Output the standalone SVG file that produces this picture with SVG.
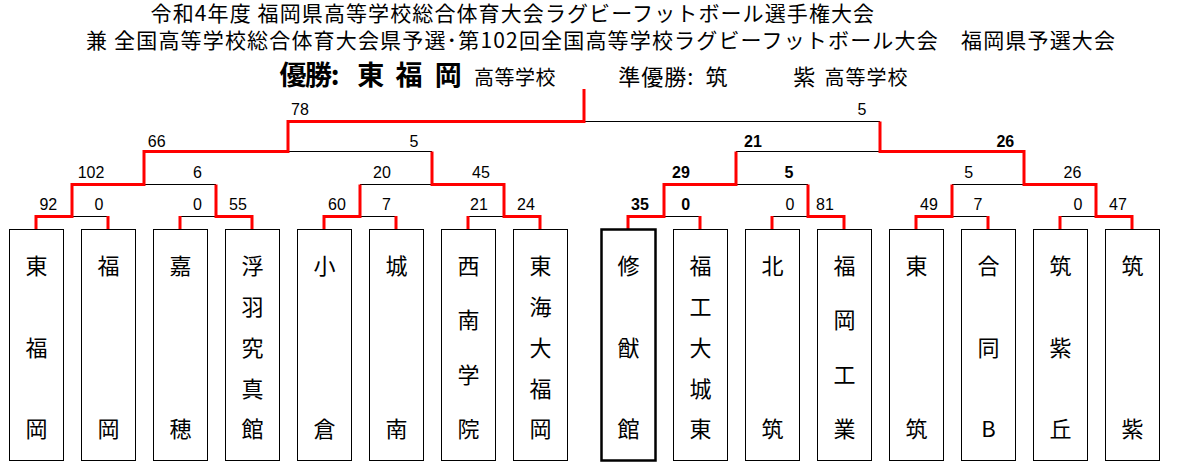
<svg xmlns="http://www.w3.org/2000/svg" width="1177" height="465" viewBox="0 0 1177 465">
<style>
.bg{fill:#fff}
.box{fill:#fff;stroke:#000;stroke-width:1}
.boxw{fill:#fff;stroke:#000;stroke-width:2.5}
.red{fill:none;stroke:#f00;stroke-width:3;stroke-linejoin:miter;stroke-linecap:butt}
.blk{fill:none;stroke:#000;stroke-width:1}
.sc{font-family:"Liberation Sans",Arial,sans-serif;font-size:16px;text-anchor:middle;fill:#000}
.b{font-weight:bold}
.nm{font-family:"Noto Sans CJK JP","Noto Sans CJK SC",sans-serif;font-size:22px;text-anchor:middle;fill:#000}
.ti{font-family:"Noto Sans CJK JP","Noto Sans CJK SC",sans-serif;fill:#000}
</style>
<rect class="bg" x="0" y="0" width="1177" height="465"/>

<g id="title">
<text class="ti" x="150.6" y="21" font-size="21" textLength="723.5">令和4年度 福岡県高等学校総合体育大会ラグビーフットボール選手権大会</text>
<text class="ti" x="86" y="47.5" font-size="21" textLength="1029">兼 全国高等学校総合体育大会県予選･第102回全国高等学校ラグビーフットボール大会　福岡県予選大会</text>
<text class="ti" x="279.5" y="85" font-size="27" font-weight="bold" textLength="60">優勝:</text>
<text class="ti" x="370.7" y="85" font-size="27" font-weight="bold" text-anchor="middle">東</text>
<text class="ti" x="409" y="85" font-size="27" font-weight="bold" text-anchor="middle">福</text>
<text class="ti" x="448.3" y="85" font-size="27" font-weight="bold" text-anchor="middle">岡</text>
<text class="ti" x="474" y="85" font-size="20" textLength="81.6">高等学校</text>
<text class="ti" x="618.3" y="85" font-size="22" textLength="75">準優勝:</text>
<text class="ti" x="716.5" y="85" font-size="22" text-anchor="middle">筑</text>
<text class="ti" x="804.2" y="85" font-size="22" text-anchor="middle">紫</text>
<text class="ti" x="824.4" y="85" font-size="20" textLength="83.2">高等学校</text>
</g>

<g id="connectors">
<path class="blk" d="M72 216.5H108M180 216.5H216M360 216.5H396M468 216.5H504M664 216.5H700M772 216.5H808M952 216.5H988M1060 216.5H1096M144 184.5H216M360 184.5H432M736 184.5H808M952 184.5H1024M288 151.5H432M736 151.5H880M584 121.5H880"/>
<path class="red" d="M108 229V216M180 229V216M396 229V216M468 229V216M700 229V216M772 229V216M988 229V216M1060 229V216"/>
<path class="red" d="M36 229V216.5H72V184.5H144V151.5H288V121.5H584V89"/>
<path class="red" d="M252 229V216.5H216V184.5"/>
<path class="red" d="M324 229V216.5H360V184.5"/>
<path class="red" d="M540 229V216.5H504V184.5H432V151.5"/>
<path class="red" d="M628 229V216.5H664V184.5H736V151.5"/>
<path class="red" d="M844 229V216.5H808V184.5"/>
<path class="red" d="M916 229V216.5H952V184.5"/>
<path class="red" d="M1132 229V216.5H1096V184.5H1024V151.5H880V121.5"/>
</g>

<g id="scores">
<text class="sc" x="48.3" y="210">92</text>
<text class="sc" x="99" y="210">0</text>
<text class="sc" x="197.5" y="210">0</text>
<text class="sc" x="238" y="210">55</text>
<text class="sc" x="337" y="210">60</text>
<text class="sc" x="386.5" y="210">7</text>
<text class="sc" x="479" y="210">21</text>
<text class="sc" x="526" y="210">24</text>
<text class="sc b" x="640" y="210">35</text>
<text class="sc b" x="685.7" y="210">0</text>
<text class="sc" x="790" y="210">0</text>
<text class="sc" x="825" y="210">81</text>
<text class="sc" x="929" y="210">49</text>
<text class="sc" x="978" y="210">7</text>
<text class="sc" x="1078" y="210">0</text>
<text class="sc" x="1118" y="210">47</text>
<text class="sc" x="91" y="178">102</text>
<text class="sc" x="197.5" y="178">6</text>
<text class="sc" x="382" y="178">20</text>
<text class="sc" x="481" y="178">45</text>
<text class="sc b" x="681" y="178">29</text>
<text class="sc b" x="789" y="178">5</text>
<text class="sc" x="968.7" y="178">5</text>
<text class="sc" x="1072.5" y="178">26</text>
<text class="sc" x="156.7" y="147">66</text>
<text class="sc" x="414" y="147">5</text>
<text class="sc b" x="753" y="147">21</text>
<text class="sc b" x="1005.3" y="147">26</text>
<text class="sc" x="300" y="115">78</text>
<text class="sc" x="862" y="115">5</text>
</g>

<g id="team1"><rect class="box" x="9.5" y="229.5" width="54" height="231"/><text class="nm"><tspan x="36.5" y="274">東</tspan><tspan x="36.5" y="355.7">福</tspan><tspan x="36.5" y="437.3">岡</tspan></text></g>
<g id="team2"><rect class="box" x="81.5" y="229.5" width="54" height="231"/><text class="nm"><tspan x="108.5" y="274">福</tspan><tspan x="108.5" y="437.3">岡</tspan></text></g>
<g id="team3"><rect class="box" x="153.5" y="229.5" width="54" height="231"/><text class="nm"><tspan x="180.5" y="274">嘉</tspan><tspan x="180.5" y="437.3">穂</tspan></text></g>
<g id="team4"><rect class="box" x="225.5" y="229.5" width="54" height="231"/><text class="nm"><tspan x="252.5" y="274">浮</tspan><tspan x="252.5" y="314.8">羽</tspan><tspan x="252.5" y="355.7">究</tspan><tspan x="252.5" y="396.5">真</tspan><tspan x="252.5" y="437.3">館</tspan></text></g>
<g id="team5"><rect class="box" x="297.5" y="229.5" width="54" height="231"/><text class="nm"><tspan x="324.5" y="274">小</tspan><tspan x="324.5" y="437.3">倉</tspan></text></g>
<g id="team6"><rect class="box" x="369.5" y="229.5" width="54" height="231"/><text class="nm"><tspan x="396.5" y="274">城</tspan><tspan x="396.5" y="437.3">南</tspan></text></g>
<g id="team7"><rect class="box" x="441.5" y="229.5" width="54" height="231"/><text class="nm"><tspan x="468.5" y="274">西</tspan><tspan x="468.5" y="328.4">南</tspan><tspan x="468.5" y="382.9">学</tspan><tspan x="468.5" y="437.3">院</tspan></text></g>
<g id="team8"><rect class="box" x="513.5" y="229.5" width="54" height="231"/><text class="nm"><tspan x="540.5" y="274">東</tspan><tspan x="540.5" y="314.8">海</tspan><tspan x="540.5" y="355.7">大</tspan><tspan x="540.5" y="396.5">福</tspan><tspan x="540.5" y="437.3">岡</tspan></text></g>
<g id="team9"><rect class="boxw" x="601.5" y="229.5" width="54" height="231"/><text class="nm"><tspan x="628.5" y="274">修</tspan><tspan x="628.5" y="355.7">猷</tspan><tspan x="628.5" y="437.3">館</tspan></text></g>
<g id="team10"><rect class="box" x="673.5" y="229.5" width="54" height="231"/><text class="nm"><tspan x="700.5" y="274">福</tspan><tspan x="700.5" y="314.8">工</tspan><tspan x="700.5" y="355.7">大</tspan><tspan x="700.5" y="396.5">城</tspan><tspan x="700.5" y="437.3">東</tspan></text></g>
<g id="team11"><rect class="box" x="745.5" y="229.5" width="54" height="231"/><text class="nm"><tspan x="772.5" y="274">北</tspan><tspan x="772.5" y="437.3">筑</tspan></text></g>
<g id="team12"><rect class="box" x="817.5" y="229.5" width="54" height="231"/><text class="nm"><tspan x="844.5" y="274">福</tspan><tspan x="844.5" y="328.4">岡</tspan><tspan x="844.5" y="382.9">工</tspan><tspan x="844.5" y="437.3">業</tspan></text></g>
<g id="team13"><rect class="box" x="889.5" y="229.5" width="54" height="231"/><text class="nm"><tspan x="916.5" y="274">東</tspan><tspan x="916.5" y="437.3">筑</tspan></text></g>
<g id="team14"><rect class="box" x="961.5" y="229.5" width="54" height="231"/><text class="nm"><tspan x="988.5" y="274">合</tspan><tspan x="988.5" y="355.7">同</tspan><tspan x="988.5" y="437.3">B</tspan></text></g>
<g id="team15"><rect class="box" x="1033.5" y="229.5" width="54" height="231"/><text class="nm"><tspan x="1060.5" y="274">筑</tspan><tspan x="1060.5" y="355.7">紫</tspan><tspan x="1060.5" y="437.3">丘</tspan></text></g>
<g id="team16"><rect class="box" x="1105.5" y="229.5" width="54" height="231"/><text class="nm"><tspan x="1132.5" y="274">筑</tspan><tspan x="1132.5" y="437.3">紫</tspan></text></g>
</svg>
